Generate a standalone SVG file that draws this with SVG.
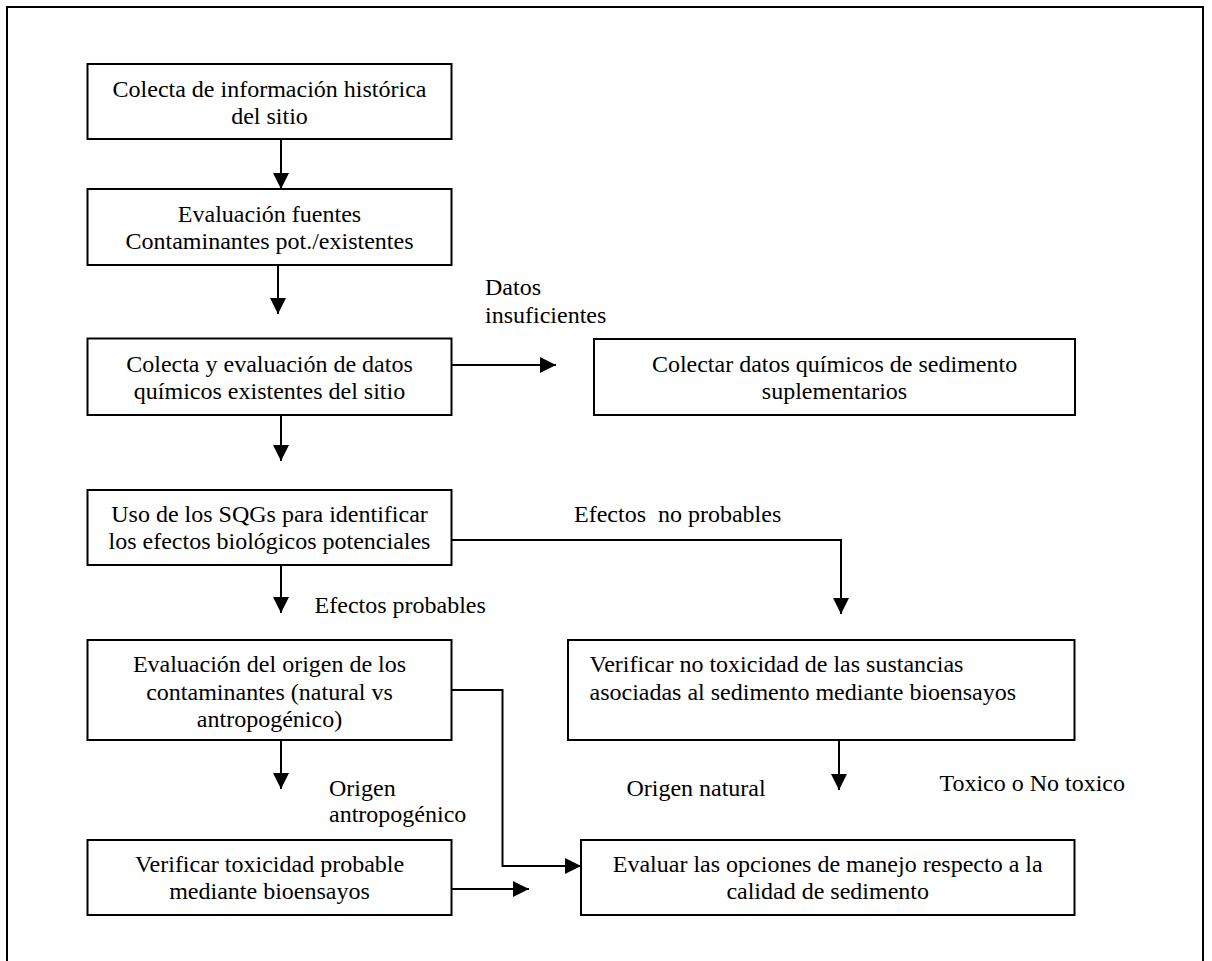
<svg xmlns="http://www.w3.org/2000/svg" width="1212" height="961" viewBox="0 0 1212 961">
<style>
.box{fill:#fff;stroke:#000;stroke-width:2}
.t{font-family:"Liberation Serif","Times New Roman",serif;font-size:24px;fill:#000}
.c{text-anchor:middle}
.conn{fill:none;stroke:#000;stroke-width:2}
</style>
<defs>
<marker id="ah" markerUnits="userSpaceOnUse" markerWidth="16" markerHeight="16" refX="15" refY="7.5" orient="auto" viewBox="0 0 15 15">
<path d="M0,0 L15,7.5 L0,15 z" fill="#000"/>
</marker>
</defs>
<rect x="7" y="7" width="1196" height="1000" fill="#fff" stroke="#000" stroke-width="2"/>
<g id="connectors">
<line class="conn" x1="281" y1="139" x2="281" y2="189" marker-end="url(#ah)"/>
<line class="conn" x1="278" y1="265" x2="278" y2="314" marker-end="url(#ah)"/>
<line class="conn" x1="452" y1="365" x2="556" y2="365" marker-end="url(#ah)"/>
<line class="conn" x1="281" y1="415" x2="281" y2="461" marker-end="url(#ah)"/>
<polyline class="conn" points="452,540 841,540 841,614" marker-end="url(#ah)"/>
<line class="conn" x1="281" y1="565" x2="281" y2="613" marker-end="url(#ah)"/>
<polyline class="conn" points="452,690 502.5,690 502.5,866 581,866" marker-end="url(#ah)"/>
<line class="conn" x1="281" y1="740" x2="281" y2="789" marker-end="url(#ah)"/>
<line class="conn" x1="839" y1="740" x2="839" y2="790" marker-end="url(#ah)"/>
<line class="conn" x1="452" y1="889" x2="529" y2="889" marker-end="url(#ah)"/>
</g>
<g id="n1">
<rect class="box" x="87.5" y="64" width="364" height="75"/>
<text class="t c" x="269.5" y="97">Colecta de información histórica</text>
<text class="t c" x="269.5" y="124">del sitio</text>
</g>
<g id="n2">
<rect class="box" x="87.5" y="189" width="364" height="76"/>
<text class="t c" x="269.5" y="222">Evaluación fuentes</text>
<text class="t c" x="269.5" y="248.5">Contaminantes pot./existentes</text>
</g>
<g id="n3">
<rect class="box" x="87.5" y="338.5" width="364" height="76.5"/>
<text class="t c" x="269.5" y="372">Colecta y evaluación de datos</text>
<text class="t c" x="269.5" y="399">químicos existentes del sitio</text>
</g>
<g id="n4">
<rect class="box" x="594" y="339" width="481" height="76"/>
<text class="t c" x="834.5" y="372">Colectar datos químicos de sedimento</text>
<text class="t c" x="834.5" y="398.5">suplementarios</text>
</g>
<g id="n5">
<rect class="box" x="87.5" y="490" width="364" height="75"/>
<text class="t c" x="269.5" y="522">Uso de los SQGs para identificar</text>
<text class="t c" x="269.5" y="549">los efectos biológicos potenciales</text>
</g>
<g id="n6">
<rect class="box" x="87.5" y="640" width="364" height="100"/>
<text class="t c" x="269.5" y="672">Evaluación del origen de los</text>
<text class="t c" x="269.5" y="699.5">contaminantes (natural vs</text>
<text class="t c" x="269.5" y="727">antropogénico)</text>
</g>
<g id="n7">
<rect class="box" x="568" y="640" width="506.5" height="100"/>
<text class="t" x="589.5" y="672">Verificar no toxicidad de las sustancias</text>
<text class="t" x="589.5" y="699.5">asociadas al sedimento mediante bioensayos</text>
</g>
<g id="n8">
<rect class="box" x="87.5" y="840" width="364" height="75"/>
<text class="t c" x="269.5" y="872">Verificar toxicidad probable</text>
<text class="t c" x="269.5" y="898.5">mediante bioensayos</text>
</g>
<g id="n9">
<rect class="box" x="581" y="840" width="493.5" height="75"/>
<text class="t c" x="827.7" y="872">Evaluar las opciones de manejo respecto a la</text>
<text class="t c" x="827.7" y="898.5">calidad de sedimento</text>
</g>
<g id="labels">
<text class="t" x="485" y="295">Datos</text>
<text class="t" x="485" y="322.7">insuficientes</text>
<text class="t" x="574" y="521.5" xml:space="preserve">Efectos  no probables</text>
<text class="t" x="314.6" y="612.5">Efectos probables</text>
<text class="t" x="329" y="796">Origen</text>
<text class="t" x="329" y="822">antropogénico</text>
<text class="t" x="626.4" y="796">Origen natural</text>
<text class="t" x="939.4" y="790.7">Toxico o No toxico</text>
</g>
</svg>
